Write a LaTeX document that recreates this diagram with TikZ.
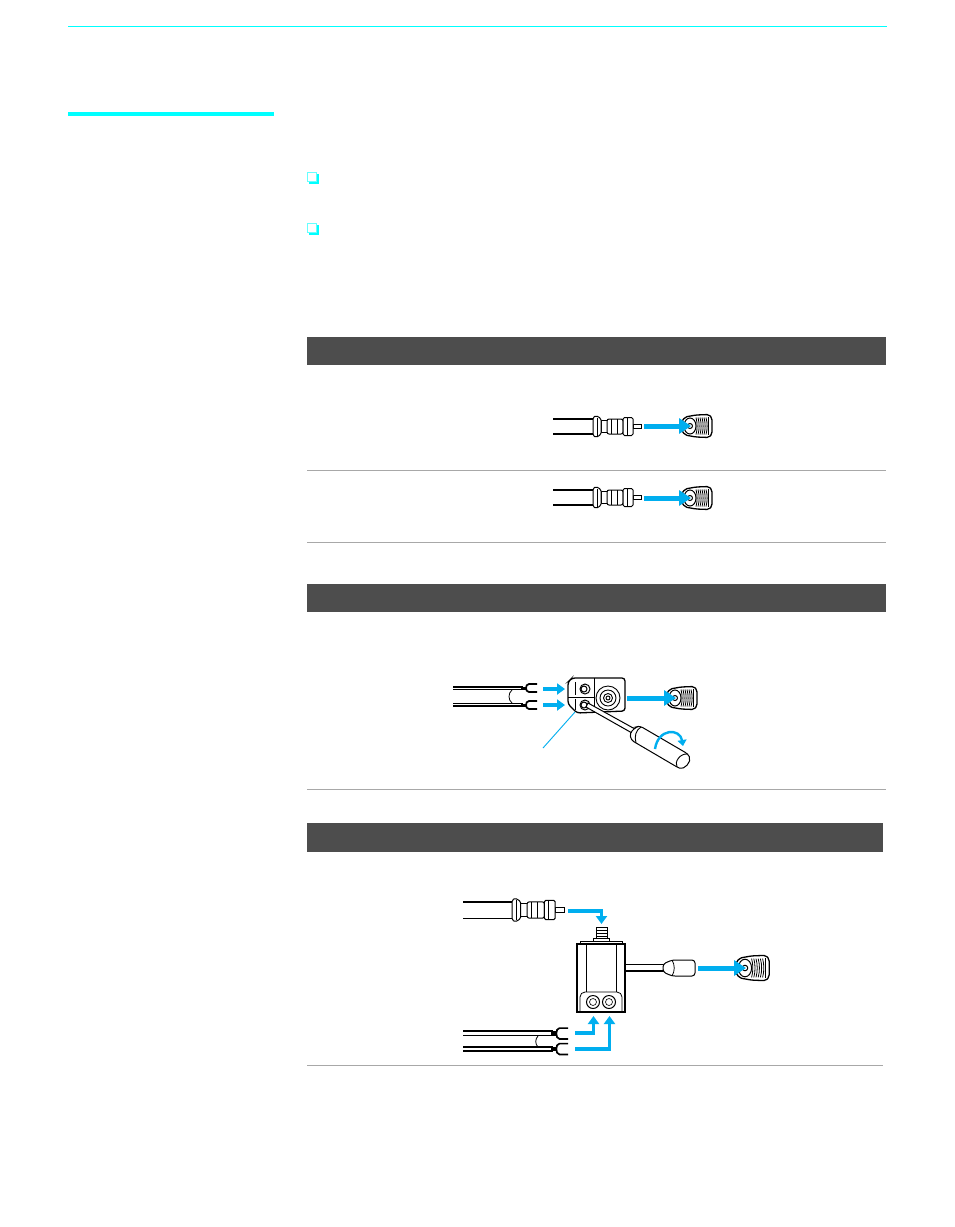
\documentclass[tikz,border=0pt]{standalone}
\usetikzlibrary{arrows.meta}
\definecolor{arrowblue}{HTML}{00AEEF}
\definecolor{pagecyan}{HTML}{00FFFF}
\definecolor{barcolor}{HTML}{4D4D4D}
\definecolor{rulecolor}{HTML}{A8A8A8}
\tikzset{
  flowarrow/.style={draw=arrowblue,line width=3.8pt,-{Triangle[length=8pt,width=11pt]}},
  coaxarrow/.style={draw=arrowblue,line width=5pt,-{Triangle[length=12pt,width=15pt]}},
  partline/.style={draw=black,line width=1pt,fill=white},
  leadline/.style={draw=black,line width=1.1pt},
  coaxplug/.pic={
    \draw[line width=1.2pt] (-40,-7.5) -- (0,-7.5) (-40,7.5) -- (0,7.5);
    \draw[partline] (40,-2) rectangle (48.5,2);
    \draw[partline] (8,-6) rectangle (14,6);
    \draw[partline,rounded corners=2] (14,-7.5) rectangle (30,7.5);
    \draw[partline] (18,-7.5) -- (18,7.5) (24,-7.5) -- (24,7.5);
    \draw[partline,rounded corners=1.5] (30,-9) rectangle (40,9);
    \draw[partline] (34,-9) -- (34,9);
    \draw[partline,rounded corners=1.5] (0,-9) -- (3,-11) -- (8,-8) -- (8,8) -- (3,11) -- (0,9) -- cycle;
    \draw[line width=.7pt] (4,-9) -- (4,9);
  },
  coaxjack/.pic={
    \draw[partline,line width=1.3pt,rounded corners=2] (-8.5,-4) -- (-5,-9) -- (6,-11) -- (19,-11.5) -- (22,-8) -- (22,8) -- (19,11.5) -- (6,11) -- (-5,9) -- (-8.5,4) -- cycle;
    \foreach \tx in {6,8,10,12,14,16}
    \draw[line width=.8pt] (\tx,-8.5) .. controls (\tx+1.5,-3) and (\tx+1.5,3) .. (\tx,8.5);
    \draw[line width=.9pt] (18.5,-9) -- (18.5,9);
    \draw[partline] (0,0) circle[x radius=6,y radius=8];
    \draw[partline] (0,0) circle[radius=2.5];
  },
  forkend/.pic={
    \draw[line width=1.7pt] (15,-4) -- (7,-4) .. controls (3,-4) and (3,4) .. (7,4) -- (15,4);
    \fill (-1,-1.5) rectangle (4,1.5);
  },
}
\begin{document}
\begin{tikzpicture}[x=1pt,y=-1pt]
\useasboundingbox (0,0) rectangle (954,1227);
\fill[white] (0,0) rectangle (954,1227);

\draw[pagecyan,line width=1pt] (68,26.5) -- (887,26.5);
\fill[pagecyan] (68,112) rectangle (274,116);
\foreach \y in {172,223} {
\fill[pagecyan] (309,\y+2) rectangle (318.5,\y+11.5);
\draw[pagecyan!60,fill=white,line width=.8pt] (307.5,\y+.5) rectangle (316.5,\y+9.5);
}

\fill[barcolor] (307,337) rectangle (886,365);
\fill[barcolor] (307,584) rectangle (886,612);
\fill[barcolor] (307,823) rectangle (883,852);
\foreach \y in {470.5,542.5,789.5}
\draw[rulecolor,line width=.8pt] (307,\y) -- (886,\y);
\draw[rulecolor,line width=.8pt] (307,1065) -- (883,1065);

\pic at (593,426.5) {coaxplug};
\pic at (690,426) {coaxjack};
\coordinate (plugA) at (644,426);
\coordinate (jackA) at (691,426);
\draw[coaxarrow] (plugA) -- (jackA);

\pic at (593,497.5) {coaxplug};
\pic at (690,498) {coaxjack};
\coordinate (plugB) at (644,498);
\coordinate (jackB) at (691,498);
\draw[coaxarrow] (plugB) -- (jackB);

\draw[leadline] (453,687) -- (523,687) (453,689.5) -- (523,689.5);
\draw[leadline] (453,703.5) -- (523,703.5) (453,706) -- (523,706);
\draw[line width=.8pt] (512,690) .. controls (508,693) and (508,700) .. (512,703);
\pic at (522,688) {forkend};
\pic at (522,705) {forkend};
\draw[partline,line width=1.3pt,rounded corners=3] (568,682) -- (572,678) -- (625,678) -- (625,711) -- (577,713) -- (568,704) -- cycle;
\draw[line width=.9pt] (594,678) -- (594,712) (568,697) -- (594,697);
\draw[line width=.8pt] (575,682) -- (575,695) (575,699) -- (575,710);
\foreach \y in {689,705} {
\draw[partline] (585,\y) circle[radius=5];
\draw[partline] (584,\y) circle[radius=3];
}
\foreach \r in {12,8,4.5,2}
\draw[line width=.9pt] (608,698) circle[radius=\r];
\draw[partline] (588,703) -- (635,729) -- (632,733) -- (586,707) -- cycle;
\draw[partline,rounded corners=3] (636,727) -- (640,726) -- (688,754) .. controls (692,762) and (684,770) .. (677,767) -- (631,740) -- (630,733) -- cycle;
\draw[line width=.9pt] (688,754) .. controls (680,753) and (674,762) .. (677,767);
\draw[line width=.9pt] (641,727) .. controls (636,730) and (634,736) .. (636,743);
\draw[arrowblue,line width=2.4pt,-{Triangle[length=6pt,width=9pt]}] (655,749) .. controls (658,728) and (680,728) .. (683,746);
\coordinate (leaderA) at (575,712);
\coordinate (leaderB) at (543,748);
\draw[arrowblue,line width=.9pt] (leaderA) -- (leaderB);
\coordinate (forkA) at (543,689);
\coordinate (forkB) at (543,705);
\coordinate (screwA) at (565,689);
\coordinate (screwB) at (565,705);
\draw[flowarrow] (forkA) -- (screwA);
\draw[flowarrow] (forkB) -- (screwB);
\pic at (675,698) {coaxjack};
\coordinate (adapterOut) at (627,698);
\coordinate (jackC) at (676,698);
\draw[coaxarrow] (adapterOut) -- (jackC);

\draw[line width=1.2pt] (463,901.9) -- (472,901.9) (463,918.1) -- (472,918.1);
\pic[scale=1.08] at (512,910) {coaxplug};
\draw[partline] (596,927) rectangle (607,939);
\foreach \y in {930,933,936}
\draw[line width=.8pt] (596,\y) -- (607,\y);
\draw[partline] (593,938) rectangle (609,942);
\draw[partline] (580,941) rectangle (622,945);
\draw[partline,line width=1.3pt] (577,944) rectangle (625,1012);
\draw[line width=.7pt] (586,944) -- (586,992) (616,944) -- (616,992);
\draw[line width=.8pt,rounded corners=5] (580,1012) -- (580,992) -- (622,992) -- (622,1012);
\foreach \x in {593,609} {
\draw[partline] (\x,1002) circle[radius=6.5];
\draw[line width=.6pt] (\x,1002) circle[radius=3.5];
}
\draw[line width=1.2pt] (626,964.5) -- (665,964.5) (626,971) -- (665,971);
\draw[partline,rounded corners=3] (663,964) -- (672,960) -- (695,960) -- (695,976) -- (672,976) -- (663,972) -- cycle;
\draw[line width=.8pt] (672,960) .. controls (675,965) and (675,971) .. (672,976);
\pic[scale=1.1] at (745,968) {coaxjack};
\coordinate (adapterEnd) at (698,968);
\coordinate (jackD) at (746,968);
\draw[coaxarrow] (adapterEnd) -- (jackD);

\draw[leadline] (463,1031) -- (553,1031) (463,1035.5) -- (553,1035.5);
\draw[leadline] (463,1047) -- (553,1047) (463,1051) -- (553,1051);
\draw[line width=.8pt] (538,1036) .. controls (535,1039) and (535,1044) .. (538,1047);
\pic[xscale=1.07,yscale=1.35] at (552,1033.5) {forkend};
\pic[xscale=1.07,yscale=1.35] at (552,1049) {forkend};

\coordinate (plugE) at (568,911);
\coordinate (studE) at (601.5,924);
\draw[flowarrow] (plugE) -| (studE);
\coordinate (forkE) at (575,1033);
\coordinate (portE) at (593.5,1016);
\draw[flowarrow] (forkE) -| (portE);
\coordinate (forkF) at (575,1049);
\coordinate (portF) at (609.5,1016);
\draw[flowarrow] (forkF) -| (portF);
\end{tikzpicture}
\end{document}
